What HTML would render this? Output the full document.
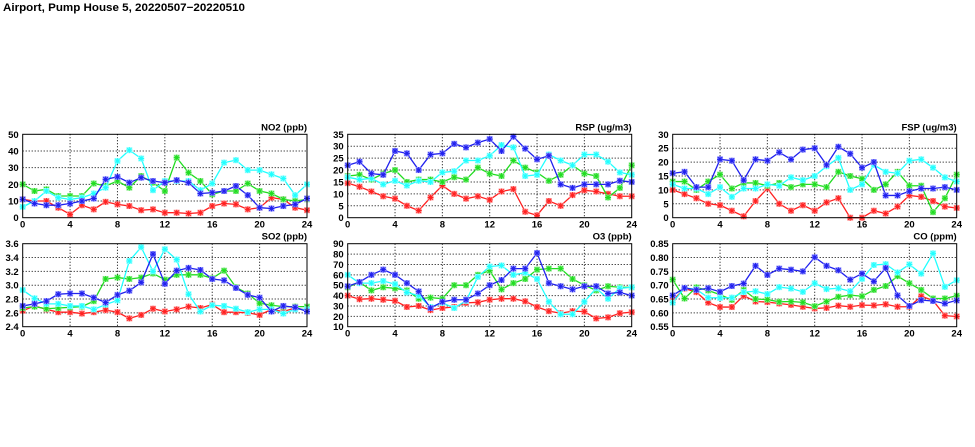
<!DOCTYPE html>
<html><head><meta charset="utf-8"><style>
html,body{margin:0;padding:0;background:#fff;}
svg{display:block;}
text{font-family:"Liberation Sans",sans-serif;font-weight:bold;fill:#000;}
</style></head><body>
<svg id="s" width="975" height="447" viewBox="0 0 975 447" xmlns="http://www.w3.org/2000/svg">
<text x="3" y="11" font-size="11" textLength="242" lengthAdjust="spacingAndGlyphs">Airport, Pump House 5, 20220507−20220510</text>
</svg>
<script>
const S=document.getElementById('s');
const NS='http://www.w3.org/2000/svg';
function el(t,a,p){const e=document.createElementNS(NS,t);for(const k in a)e.setAttribute(k,a[k]);(p||S).appendChild(e);return e;}
const cols=[['#ff2020','#ff9a9a'],['#20dd20','#9aee9a'],['#20ffff','#a0ffff'],['#2020ee','#9a9aff']];
const panels=[
{x0:22.7,x1:307,y0:134.3,y1:217.7,t:'NO2 (ppb)',min:0,max:50,step:10,dec:0,d:[
[11,10,10,6,2,7.5,5,9.5,8,7,4.5,5,3,3,2.5,3,7,8.5,8,5,6,12,11,6,4.5],
[20,16,17,13,13,13,20.5,19,22,18,25,21,16,36,27,22,14,16,16,20.5,16,14.5,11,10,11],
[6.5,10,16,12,11,12,14.5,18,34,40.5,35.5,16.5,22,22,22,16.5,20.5,33,34.5,28.5,28.5,26,23.5,13.5,20],
[11,8.5,7.5,7.5,8.5,10,11.5,23,24.5,21,24,22,21,22.5,21,14.5,15,16,19,13.5,6,5.5,7,8,11.5]]},
{x0:347.7,x1:631.7,y0:134.3,y1:217.7,t:'RSP (ug/m3)',min:0,max:35,step:5,dec:0,d:[
[14.5,13,11,9,8,5,3,8.5,13.5,10,8,9,7.5,11,12,2.5,1,7,5,9.5,11.5,11,10,9,9],
[17.5,18,16,18.5,20,15,16,16,15,17,16,21,18.5,17.5,24,21,19,15.5,18,22,18.5,17.5,8.5,12.5,22],
[17,16,16.5,14,15.5,13.5,15.5,15,19,19.5,24,24,26,30.5,29.5,17.5,18,26.5,24,22,26.5,26.5,23.5,19,18],
[22,23.5,18.5,18,28,27,20,26.5,27,31,29.5,31.5,33,28,34,29,24.5,26,14,12.5,14,14,14,15.5,15]]},
{x0:672.7,x1:956.7,y0:134.3,y1:217.7,t:'FSP (ug/m3)',min:0,max:30,step:5,dec:0,d:[
[10,8.5,7,5,4.5,2.5,0.5,6,10.5,5,2.5,4.5,2.5,5.5,7,0,0,2.5,1.5,4,8,7.5,6,4,3.5],
[13,13,10,13,15.5,10.5,12.5,12.5,11.5,12.5,11,12,12,11,16.5,15,14,10,12,16.5,11.5,11.5,2,7,15.5],
[12,10.5,10.5,8.5,11,7.5,10.5,10.5,12,11.5,14.5,13.5,15,18.5,21.5,10,12,19,16.5,16,20.5,21,18,14.5,13],
[16,16.5,11,11,21,20.5,13.5,21,20.5,23.5,21,24.5,25,19,25.5,23,18,20,8,8,9.5,10.5,10.5,11,10]]},
{x0:22.7,x1:307,y0:243.7,y1:326.7,t:'SO2 (ppb)',min:2.4,max:3.6,step:0.2,dec:1,d:[
[2.63,2.70,2.65,2.61,2.61,2.59,2.61,2.64,2.61,2.52,2.57,2.66,2.62,2.65,2.69,2.67,2.72,2.61,2.61,2.60,2.57,2.65,2.62,2.67,2.64],
[2.67,2.69,2.66,2.67,2.68,2.69,2.77,3.09,3.11,3.09,3.11,3.17,3.08,3.15,3.15,3.15,3.10,3.21,2.97,2.88,2.74,2.71,2.69,2.69,2.69],
[2.93,2.81,2.73,2.73,2.70,2.70,2.65,2.72,2.78,3.35,3.55,3.20,3.52,3.37,2.87,2.62,2.71,2.70,2.66,2.61,2.65,2.65,2.59,2.65,2.65],
[2.70,2.73,2.77,2.87,2.88,2.88,2.82,2.75,2.86,2.92,3.04,3.45,3.02,3.21,3.25,3.22,3.09,3.07,2.96,2.86,2.82,2.62,2.70,2.68,2.62]]},
{x0:347.7,x1:631.7,y0:243.7,y1:326.7,t:'O3 (ppb)',min:10,max:90,step:10,dec:0,d:[
[40,36.5,37,36,35,29,30,26,28,29,33,33.5,36,37,37,34.5,29,25,23,25,24.5,18,19,23,24],
[48,53,45,48,47,45,37,38,37,50,50,60,64,46,52,56,65,66,66,56,50,45,49,48,48],
[60,52,52,54,51,43,40,29,33,28,35,58,68,69,60,62,56,34,22,22,34,47,37,47,48],
[49,53,60,65,60,52,44,28,34,36,36,42,50,55,66,66,81,52,49,46,49,49,42,43,40]]},
{x0:672.7,x1:956.7,y0:243.7,y1:326.7,t:'CO (ppm)',min:0.55,max:0.85,step:0.05,dec:2,d:[
[.645,.688,.675,.637,.621,.621,.662,.641,.639,.634,.629,.622,.616,.618,.626,.622,.628,.627,.631,.622,.622,.660,.645,.590,.587],
[.720,.652,.692,.681,.666,.647,.683,.650,.648,.640,.641,.638,.624,.641,.658,.664,.660,.683,.697,.733,.707,.683,.652,.652,.662],
[.637,.690,.685,.655,.654,.655,.675,.678,.668,.693,.688,.676,.707,.686,.689,.678,.723,.773,.776,.746,.775,.742,.815,.694,.718],
[.663,.690,.683,.689,.676,.697,.706,.770,.737,.760,.756,.750,.801,.770,.754,.720,.742,.714,.762,.663,.625,.646,.643,.634,.645]]}
];
for(const p of panels){
 const X=h=>p.x0+(p.x1-p.x0)*h/24, Y=v=>p.y1-(p.y1-p.y0)*(v-p.min)/(p.max-p.min);
 const n=Math.round((p.max-p.min)/p.step);
 for(let i=0;i<=n;i++){const v=p.min+i*p.step,y=Y(v);
  if(i>0&&i<n)el('line',{x1:p.x0,x2:p.x1,y1:y,y2:y,stroke:'#000','stroke-width':1,'stroke-dasharray':'1,2'});
  const t=el('text',{x:p.x0-4,y:y+3.5,'font-size':9.5,'text-anchor':'end'});t.textContent=v.toFixed(p.dec);}
 for(let h=0;h<=24;h+=4){const x=X(h);
  if(h>0&&h<24)el('line',{x1:x,x2:x,y1:p.y0,y2:p.y1,stroke:'#000','stroke-width':1,'stroke-dasharray':'1,2'});
  const t=el('text',{x:x,y:p.y1+10,'font-size':9.5,'text-anchor':'middle'});t.textContent=h;}
 const tt=el('text',{x:p.x1,y:p.y0-4,'font-size':9.5,'text-anchor':'end'});tt.textContent=p.t;
 p.d.forEach((arr,k)=>{const [c,l]=cols[k];
  el('polyline',{points:arr.map((v,h)=>X(h)+','+Y(v)).join(' '),fill:'none',stroke:c,'stroke-width':1.3});
  arr.forEach((v,h)=>{const x=X(h),y=Y(v);
   el('rect',{x:x-3,y:y-3,width:6,height:6,fill:l});
   el('path',{d:`M${x-3} ${y}H${x+3}M${x} ${y-3}V${y+3}M${x-2.2} ${y-2.2}L${x+2.2} ${y+2.2}M${x-2.2} ${y+2.2}L${x+2.2} ${y-2.2}`,stroke:c,'stroke-width':1});});
 });
 el('rect',{x:p.x0,y:p.y0,width:p.x1-p.x0,height:p.y1-p.y0,fill:'none',stroke:'#000','stroke-width':1});
}
</script>
</body></html>
